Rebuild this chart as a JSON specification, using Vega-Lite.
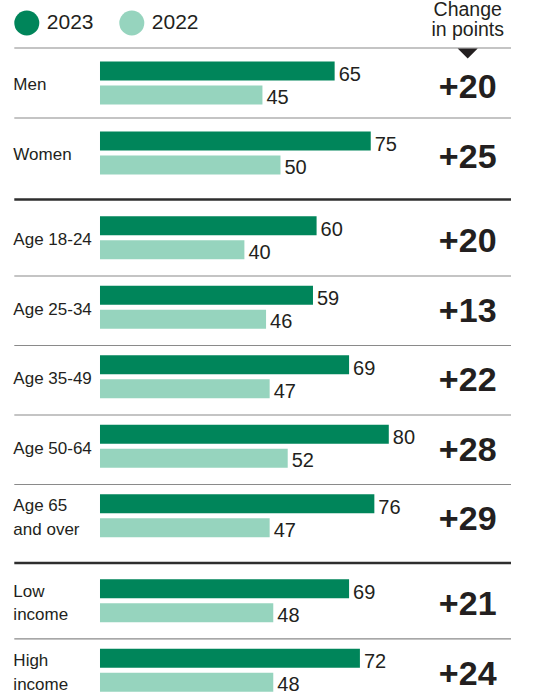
{
  "$schema": "https://vega.github.io/schema/vega-lite/v6.json",
  "padding": 0,
  "spacing": 15,
  "bounds": "flush",
  "config": {
    "view": {"stroke": null},
    "font": "Liberation Sans",
    "text": {"color": "#231f20"}
  },
  "datasets": {
    "rows": [
      {"group": "Gender", "label": "Men", "v2023": 65, "v2022": 45, "change": 20},
      {"group": "Gender", "label": "Women", "v2023": 75, "v2022": 50, "change": 25},
      {"group": "Age", "label": "Age 18-24", "v2023": 60, "v2022": 40, "change": 20},
      {"group": "Age", "label": "Age 25-34", "v2023": 59, "v2022": 46, "change": 13},
      {"group": "Age", "label": "Age 35-49", "v2023": 69, "v2022": 47, "change": 22},
      {"group": "Age", "label": "Age 50-64", "v2023": 80, "v2022": 52, "change": 28},
      {"group": "Age", "label": "Age 65\nand over", "v2023": 76, "v2022": 47, "change": 29},
      {"group": "Income", "label": "Low\nincome", "v2023": 69, "v2022": 48, "change": 21},
      {"group": "Income", "label": "High\nincome", "v2023": 72, "v2022": 48, "change": 24}
    ],
    "header": [{"text": "Change\nin points"}]
  },
  "vconcat": [
    {
      "width": 549,
      "height": 32.5,
      "data": {"name": "header"},
      "mark": {"type": "text", "lineBreak": "\n", "fontSize": 19.5, "lineHeight": 20, "align": "center", "baseline": "middle", "dy": -5.8},
      "encoding": {
        "x": {"datum": 101.86, "type": "quantitative", "scale": {"domain": [-27.7, 124.38]}, "axis": null},
        "text": {"field": "text"}
      }
    },
    {
      "width": 549,
      "height": {"step": 70},
      "data": {"name": "rows"},
      "transform": [{"filter": "datum.group === 'Gender'"}],
      "encoding": {
        "y": {"field": "label", "type": "nominal", "sort": null, "axis": null}
      },
      "layer": [
        {
          "mark": {"type": "rule", "color": "#8a8a8a", "strokeWidth": 1.2},
          "encoding": {
            "y": {"field": "label", "type": "nominal", "bandPosition": 0, "sort": null},
            "x": {"datum": -23.74, "type": "quantitative", "scale": {"domain": [-27.7, 124.38]}, "axis": null},
            "x2": {"datum": 113.85}
          }
        },
        {
          "mark": {"type": "bar", "height": 19, "yOffset": -12},
          "encoding": {
            "x": {"field": "v2023", "type": "quantitative", "scale": {"domain": [-27.7, 124.38]}, "axis": null},
            "color": {
              "datum": "2023", "type": "nominal",
              "scale": {"domain": ["2023", "2022"], "range": ["#00855a", "#96d4be"]},
              "legend": {"title": null, "orient": "none", "legendX": 14.3, "legendY": 10.5, "direction": "horizontal", "symbolType": "circle", "symbolSize": 625, "symbolStrokeWidth": 0, "labelFontSize": 21, "labelOffset": 7.5, "columnPadding": 25, "padding": 0, "labelColor": "#231f20", "labelFont": "Liberation Sans"}
            }
          }
        },
        {
          "mark": {"type": "bar", "height": 19, "yOffset": 12},
          "encoding": {
            "x": {"field": "v2022", "type": "quantitative", "scale": {"domain": [-27.7, 124.38]}, "axis": null},
            "color": {"datum": "2022", "type": "nominal"}
          }
        },
        {
          "mark": {"type": "text", "align": "left", "baseline": "middle", "dx": 4, "dy": -8, "fontSize": 20},
          "encoding": {
            "x": {"field": "v2023", "type": "quantitative", "scale": {"domain": [-27.7, 124.38]}, "axis": null},
            "text": {"field": "v2023", "type": "quantitative"}
          }
        },
        {
          "mark": {"type": "text", "align": "left", "baseline": "middle", "dx": 4, "dy": 15, "fontSize": 20},
          "encoding": {
            "x": {"field": "v2022", "type": "quantitative", "scale": {"domain": [-27.7, 124.38]}, "axis": null},
            "text": {"field": "v2022", "type": "quantitative"}
          }
        },
        {
          "mark": {"type": "text", "align": "left", "baseline": "middle", "fontSize": 17, "dy": 2.4},
          "encoding": {
            "x": {"datum": -24, "type": "quantitative", "scale": {"domain": [-27.7, 124.38]}, "axis": null},
            "text": {"field": "label"}
          }
        },
        {
          "mark": {"type": "text", "align": "center", "baseline": "middle", "fontSize": 34, "fontWeight": "bold", "dy": 4.5},
          "encoding": {
            "x": {"datum": 101.86, "type": "quantitative", "scale": {"domain": [-27.7, 124.38]}, "axis": null},
            "text": {"field": "change", "type": "quantitative", "format": "+d"}
          }
        },
        {
          "transform": [{"filter": "datum.label === 'Men'"}],
          "mark": {"type": "point", "shape": "M-1,-0.5L1,-0.5L0,0.5Z", "filled": true, "color": "#231f20", "opacity": 1, "size": 400, "yOffset": 5.5},
          "encoding": {
            "y": {"field": "label", "type": "nominal", "bandPosition": 0, "sort": null},
            "x": {"datum": 101.86, "type": "quantitative", "scale": {"domain": [-27.7, 124.38]}, "axis": null}
          }
        }
      ]
    },
    {
      "width": 549,
      "height": {"step": 69.5},
      "data": {"name": "rows"},
      "transform": [{"filter": "datum.group === 'Age'"}],
      "encoding": {
        "y": {"field": "label", "type": "nominal", "sort": null, "axis": null}
      },
      "layer": [
        {
          "mark": {"type": "bar", "height": 19, "yOffset": -12},
          "encoding": {
            "x": {"field": "v2023", "type": "quantitative", "scale": {"domain": [-27.7, 124.38]}, "axis": null},
            "color": {"datum": "2023", "type": "nominal", "scale": {"domain": ["2023", "2022"], "range": ["#00855a", "#96d4be"]}}
          }
        },
        {
          "mark": {"type": "bar", "height": 19, "yOffset": 12},
          "encoding": {
            "x": {"field": "v2022", "type": "quantitative", "scale": {"domain": [-27.7, 124.38]}, "axis": null},
            "color": {"datum": "2022", "type": "nominal"}
          }
        },
        {
          "transform": [{"filter": "datum.label !== 'Age 18-24'"}],
          "mark": {"type": "rule", "color": "#8a8a8a", "strokeWidth": 1.2},
          "encoding": {
            "y": {"field": "label", "type": "nominal", "bandPosition": 0, "sort": null},
            "x": {"datum": -23.74, "type": "quantitative", "scale": {"domain": [-27.7, 124.38]}, "axis": null},
            "x2": {"datum": 113.85}
          }
        },
        {
          "transform": [{"filter": "datum.label === 'Age 18-24'"}],
          "mark": {"type": "rule", "color": "#2e2e2e", "strokeWidth": 2.5},
          "encoding": {
            "y": {"field": "label", "type": "nominal", "bandPosition": -0.112, "sort": null},
            "x": {"datum": -23.74, "type": "quantitative", "scale": {"domain": [-27.7, 124.38]}, "axis": null},
            "x2": {"datum": 113.85}
          }
        },
        {
          "mark": {"type": "text", "align": "left", "baseline": "middle", "dx": 4, "dy": -8, "fontSize": 20},
          "encoding": {
            "x": {"field": "v2023", "type": "quantitative", "scale": {"domain": [-27.7, 124.38]}, "axis": null},
            "text": {"field": "v2023", "type": "quantitative"}
          }
        },
        {
          "mark": {"type": "text", "align": "left", "baseline": "middle", "dx": 4, "dy": 15, "fontSize": 20},
          "encoding": {
            "x": {"field": "v2022", "type": "quantitative", "scale": {"domain": [-27.7, 124.38]}, "axis": null},
            "text": {"field": "v2022", "type": "quantitative"}
          }
        },
        {
          "transform": [{"filter": "indexof(datum.label, '\\n') < 0"}],
          "mark": {"type": "text", "align": "left", "baseline": "middle", "fontSize": 17, "dy": 2.4},
          "encoding": {
            "x": {"datum": -24, "type": "quantitative", "scale": {"domain": [-27.7, 124.38]}, "axis": null},
            "text": {"field": "label"}
          }
        },
        {
          "transform": [{"filter": "indexof(datum.label, '\\n') >= 0"}],
          "mark": {"type": "text", "align": "left", "baseline": "middle", "fontSize": 17, "lineBreak": "\n", "lineHeight": 23.5, "dy": -9.6},
          "encoding": {
            "x": {"datum": -24, "type": "quantitative", "scale": {"domain": [-27.7, 124.38]}, "axis": null},
            "text": {"field": "label"}
          }
        },
        {
          "mark": {"type": "text", "align": "center", "baseline": "middle", "fontSize": 34, "fontWeight": "bold", "dy": 4.5},
          "encoding": {
            "x": {"datum": 101.86, "type": "quantitative", "scale": {"domain": [-27.7, 124.38]}, "axis": null},
            "text": {"field": "change", "type": "quantitative", "format": "+d"}
          }
        }
      ]
    },
    {
      "width": 549,
      "height": {"step": 69.5},
      "data": {"name": "rows"},
      "transform": [{"filter": "datum.group === 'Income'"}],
      "encoding": {
        "y": {"field": "label", "type": "nominal", "sort": null, "axis": null}
      },
      "layer": [
        {
          "mark": {"type": "bar", "height": 19, "yOffset": -12},
          "encoding": {
            "x": {"field": "v2023", "type": "quantitative", "scale": {"domain": [-27.7, 124.38]}, "axis": null},
            "color": {"datum": "2023", "type": "nominal", "scale": {"domain": ["2023", "2022"], "range": ["#00855a", "#96d4be"]}}
          }
        },
        {
          "mark": {"type": "bar", "height": 19, "yOffset": 12},
          "encoding": {
            "x": {"field": "v2022", "type": "quantitative", "scale": {"domain": [-27.7, 124.38]}, "axis": null},
            "color": {"datum": "2022", "type": "nominal"}
          }
        },
        {
          "transform": [{"filter": "datum.v2023 === 72"}],
          "mark": {"type": "rule", "color": "#8a8a8a", "strokeWidth": 1.2},
          "encoding": {
            "y": {"field": "label", "type": "nominal", "bandPosition": 0, "sort": null},
            "x": {"datum": -23.74, "type": "quantitative", "scale": {"domain": [-27.7, 124.38]}, "axis": null},
            "x2": {"datum": 113.85}
          }
        },
        {
          "transform": [{"filter": "datum.v2023 === 69"}],
          "mark": {"type": "rule", "color": "#2e2e2e", "strokeWidth": 2.5},
          "encoding": {
            "y": {"field": "label", "type": "nominal", "bandPosition": -0.105, "sort": null},
            "x": {"datum": -23.74, "type": "quantitative", "scale": {"domain": [-27.7, 124.38]}, "axis": null},
            "x2": {"datum": 113.85}
          }
        },
        {
          "mark": {"type": "text", "align": "left", "baseline": "middle", "dx": 4, "dy": -8, "fontSize": 20},
          "encoding": {
            "x": {"field": "v2023", "type": "quantitative", "scale": {"domain": [-27.7, 124.38]}, "axis": null},
            "text": {"field": "v2023", "type": "quantitative"}
          }
        },
        {
          "mark": {"type": "text", "align": "left", "baseline": "middle", "dx": 4, "dy": 15, "fontSize": 20},
          "encoding": {
            "x": {"field": "v2022", "type": "quantitative", "scale": {"domain": [-27.7, 124.38]}, "axis": null},
            "text": {"field": "v2022", "type": "quantitative"}
          }
        },
        {
          "mark": {"type": "text", "align": "left", "baseline": "middle", "fontSize": 17, "lineBreak": "\n", "lineHeight": 23.5, "dy": -9},
          "encoding": {
            "x": {"datum": -24, "type": "quantitative", "scale": {"domain": [-27.7, 124.38]}, "axis": null},
            "text": {"field": "label"}
          }
        },
        {
          "mark": {"type": "text", "align": "center", "baseline": "middle", "fontSize": 34, "fontWeight": "bold", "dy": 4.5},
          "encoding": {
            "x": {"datum": 101.86, "type": "quantitative", "scale": {"domain": [-27.7, 124.38]}, "axis": null},
            "text": {"field": "change", "type": "quantitative", "format": "+d"}
          }
        }
      ]
    }
  ]
}
